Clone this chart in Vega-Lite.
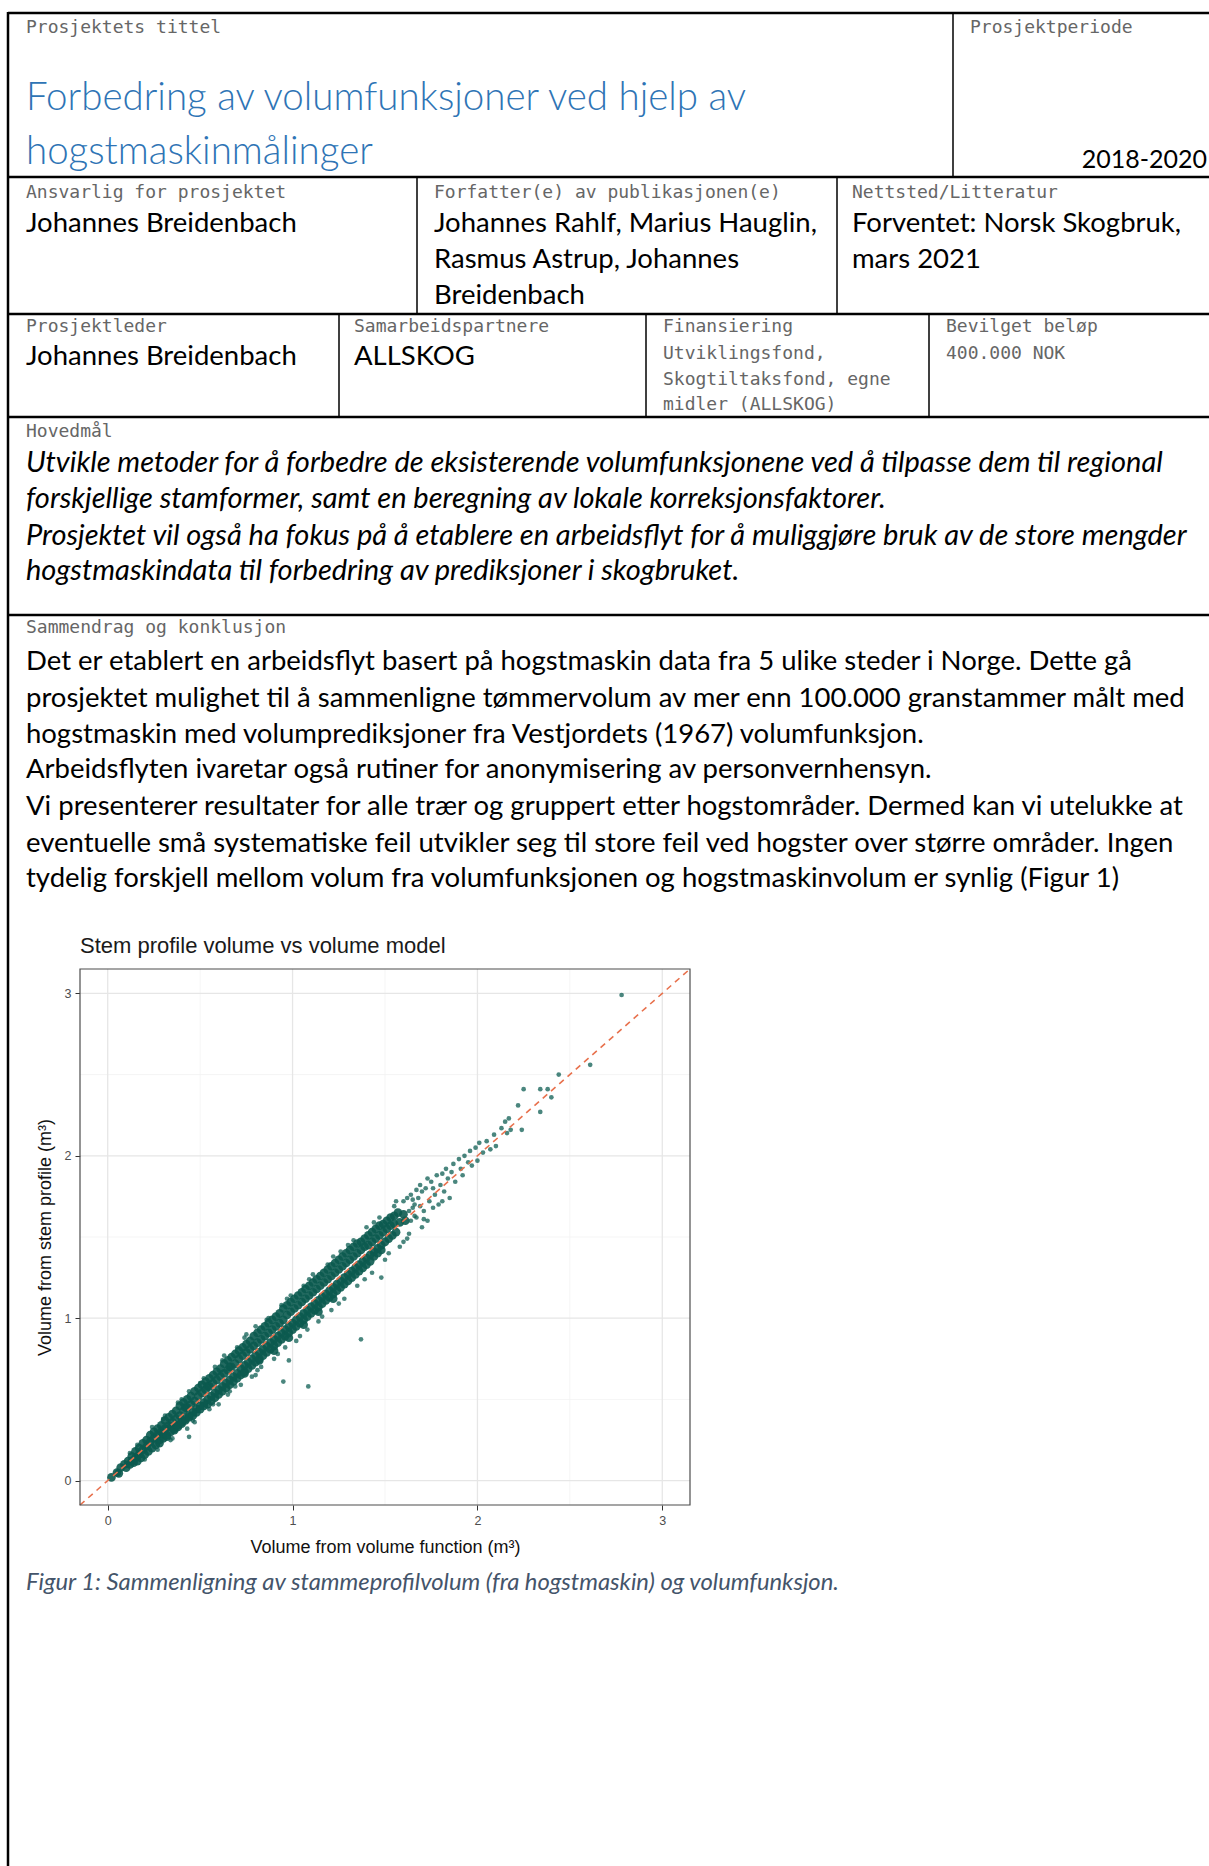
{
  "$schema": "https://vega.github.io/schema/vega-lite/v6.json",
  "width": 1209,
  "height": 1866,
  "autosize": {"type": "none"},
  "padding": 0,
  "background": "white",
  "config": {"view": {"stroke": null}},
  "datasets": {
    "texts": [
      {"role": "label", "t": "Prosjektets tittel", "px": 26, "py": 33},
      {"role": "label", "t": "Prosjektperiode", "px": 970, "py": 33},
      {"role": "label", "t": "Ansvarlig for prosjektet", "px": 26, "py": 198},
      {"role": "label", "t": "Forfatter(e) av publikasjonen(e)", "px": 434, "py": 198},
      {"role": "label", "t": "Nettsted/Litteratur", "px": 852, "py": 198},
      {"role": "label", "t": "Prosjektleder", "px": 26, "py": 332},
      {"role": "label", "t": "Samarbeidspartnere", "px": 354, "py": 332},
      {"role": "label", "t": "Finansiering", "px": 663, "py": 332},
      {"role": "label", "t": "Bevilget beløp", "px": 946, "py": 332},
      {"role": "label", "t": "Utviklingsfond,", "px": 663, "py": 359},
      {"role": "label", "t": "Skogtiltaksfond, egne", "px": 663, "py": 385},
      {"role": "label", "t": "midler (ALLSKOG)", "px": 663, "py": 410},
      {"role": "label", "t": "400.000 NOK", "px": 946, "py": 359},
      {"role": "label", "t": "Hovedmål", "px": 26, "py": 437},
      {"role": "label", "t": "Sammendrag og konklusjon", "px": 26, "py": 633},
      {"role": "title", "t": "Forbedring av volumfunksjoner  ved hjelp av", "px": 26, "py": 110},
      {"role": "title", "t": "hogstmaskinmålinger", "px": 26, "py": 164},
      {"role": "period", "t": "2018-2020", "px": 1207, "py": 168},
      {"role": "value", "t": "Johannes Breidenbach", "px": 26, "py": 232},
      {"role": "value", "t": "Johannes Rahlf, Marius Hauglin,", "px": 434, "py": 232},
      {"role": "value", "t": "Rasmus Astrup, Johannes", "px": 434, "py": 268},
      {"role": "value", "t": "Breidenbach", "px": 434, "py": 304},
      {"role": "value", "t": "Forventet: Norsk Skogbruk,", "px": 852, "py": 232},
      {"role": "value", "t": "mars 2021", "px": 852, "py": 268},
      {"role": "value", "t": "Johannes Breidenbach", "px": 26, "py": 365},
      {"role": "value", "t": "ALLSKOG", "px": 354, "py": 365},
      {"role": "goal", "t": "Utvikle metoder for å forbedre de eksisterende volumfunksjonene ved å tilpasse dem til regional", "px": 26, "py": 472},
      {"role": "goal", "t": "forskjellige stamformer, samt en beregning av lokale korreksjonsfaktorer.", "px": 26, "py": 508},
      {"role": "goal", "t": "Prosjektet vil også ha fokus på å etablere en arbeidsflyt for å muliggjøre bruk av de store mengder", "px": 26, "py": 545},
      {"role": "goal", "t": "hogstmaskindata til forbedring av prediksjoner i skogbruket.", "px": 26, "py": 580},
      {"role": "body", "t": "Det er etablert en arbeidsflyt basert på hogstmaskin data fra 5 ulike steder i Norge. Dette gå", "px": 26, "py": 670},
      {"role": "body", "t": "prosjektet mulighet til å sammenligne tømmervolum av mer enn 100.000  granstammer målt med", "px": 26, "py": 707},
      {"role": "body", "t": "hogstmaskin med volumprediksjoner fra Vestjordets (1967) volumfunksjon.", "px": 26, "py": 743},
      {"role": "body", "t": "Arbeidsflyten ivaretar også rutiner for anonymisering av personvernhensyn.", "px": 26, "py": 778},
      {"role": "body", "t": "Vi presenterer resultater for alle trær og gruppert etter hogstområder. Dermed kan vi utelukke at", "px": 26, "py": 815},
      {"role": "body", "t": "eventuelle små systematiske feil utvikler seg til store feil ved hogster over større områder. Ingen", "px": 26, "py": 852},
      {"role": "body", "t": "tydelig forskjell mellom volum fra volumfunksjonen og hogstmaskinvolum er synlig (Figur 1)", "px": 26, "py": 887},
      {"role": "caption", "t": "Figur 1: Sammenligning av stammeprofilvolum (fra hogstmaskin) og volumfunksjon.", "px": 26, "py": 1590},
      {"role": "charttitle", "t": "Stem profile volume vs volume model", "px": 80, "py": 953}
    ],
    "lines": [
      {"kind": "outer", "px": 8, "py": 13, "px2": 1209, "py2": 13},
      {"kind": "outer", "px": 8, "py": 177, "px2": 1209, "py2": 177},
      {"kind": "outer", "px": 8, "py": 314, "px2": 1209, "py2": 314},
      {"kind": "outer", "px": 8, "py": 417, "px2": 1209, "py2": 417},
      {"kind": "outer", "px": 8, "py": 615, "px2": 1209, "py2": 615},
      {"kind": "outer", "px": 8, "py": 12, "px2": 8, "py2": 1866},
      {"kind": "inner", "px": 953, "py": 13, "px2": 953, "py2": 177},
      {"kind": "inner", "px": 417, "py": 177, "px2": 417, "py2": 314},
      {"kind": "inner", "px": 837, "py": 177, "px2": 837, "py2": 314},
      {"kind": "inner", "px": 339, "py": 314, "px2": 339, "py2": 417},
      {"kind": "inner", "px": 646, "py": 314, "px2": 646, "py2": 417},
      {"kind": "inner", "px": 929, "py": 314, "px2": 929, "py2": 417}
    ],
    "grid": [
      {"v": 0, "kind": "major", "lo": -0.15, "hi": 3.15}, {"v": 1, "kind": "major", "lo": -0.15, "hi": 3.15},
      {"v": 2, "kind": "major", "lo": -0.15, "hi": 3.15}, {"v": 3, "kind": "major", "lo": -0.15, "hi": 3.15},
      {"v": 0.5, "kind": "minor", "lo": -0.15, "hi": 3.15}, {"v": 1.5, "kind": "minor", "lo": -0.15, "hi": 3.15},
      {"v": 2.5, "kind": "minor", "lo": -0.15, "hi": 3.15}
    ],
    "core": [
      {"x": 0.02, "y": 0.02}, {"x": 0.05, "y": 0.05}, {"x": 0.06, "y": 0.045}, {"x": 0.07, "y": 0.08},
      {"x": 0.09, "y": 0.10}, {"x": 0.10, "y": 0.08}, {"x": 0.11, "y": 0.12}, {"x": 0.12, "y": 0.10},
      {"x": 0.13, "y": 0.15}, {"x": 0.13, "y": 0.12}, {"x": 0.14, "y": 0.11},
      {"x": 0.15, "y": 0.18}, {"x": 0.15, "y": 0.14}, {"x": 0.16, "y": 0.12},
      {"x": 0.17, "y": 0.20}, {"x": 0.17, "y": 0.16}, {"x": 0.18, "y": 0.14},
      {"x": 0.19, "y": 0.23}, {"x": 0.19, "y": 0.19}, {"x": 0.20, "y": 0.16},
      {"x": 0.21, "y": 0.25}, {"x": 0.21, "y": 0.21}, {"x": 0.22, "y": 0.18},
      {"x": 0.23, "y": 0.28}, {"x": 0.23, "y": 0.24}, {"x": 0.24, "y": 0.20},
      {"x": 0.25, "y": 0.30}, {"x": 0.25, "y": 0.26}, {"x": 0.26, "y": 0.22},
      {"x": 0.27, "y": 0.32}, {"x": 0.27, "y": 0.28}, {"x": 0.28, "y": 0.23},
      {"x": 0.29, "y": 0.34}, {"x": 0.29, "y": 0.30}, {"x": 0.30, "y": 0.26}, {"x": 0.28, "y": 0.25},
      {"x": 0.31, "y": 0.37}, {"x": 0.31, "y": 0.32}, {"x": 0.32, "y": 0.27}, {"x": 0.30, "y": 0.29},
      {"x": 0.33, "y": 0.39}, {"x": 0.33, "y": 0.34}, {"x": 0.34, "y": 0.30}, {"x": 0.32, "y": 0.28},
      {"x": 0.35, "y": 0.41}, {"x": 0.35, "y": 0.36}, {"x": 0.36, "y": 0.32}, {"x": 0.34, "y": 0.33},
      {"x": 0.37, "y": 0.43}, {"x": 0.37, "y": 0.38}, {"x": 0.38, "y": 0.34}, {"x": 0.36, "y": 0.31},
      {"x": 0.39, "y": 0.46}, {"x": 0.39, "y": 0.40}, {"x": 0.40, "y": 0.36}, {"x": 0.38, "y": 0.33},
      {"x": 0.41, "y": 0.48}, {"x": 0.41, "y": 0.43}, {"x": 0.42, "y": 0.38}, {"x": 0.40, "y": 0.35}, {"x": 0.42, "y": 0.45},
      {"x": 0.43, "y": 0.50}, {"x": 0.43, "y": 0.45}, {"x": 0.44, "y": 0.40}, {"x": 0.42, "y": 0.37},
      {"x": 0.45, "y": 0.52}, {"x": 0.45, "y": 0.47}, {"x": 0.46, "y": 0.42}, {"x": 0.44, "y": 0.39},
      {"x": 0.47, "y": 0.55}, {"x": 0.47, "y": 0.49}, {"x": 0.48, "y": 0.44}, {"x": 0.46, "y": 0.40},
      {"x": 0.49, "y": 0.57}, {"x": 0.49, "y": 0.52}, {"x": 0.50, "y": 0.46}, {"x": 0.48, "y": 0.42},
      {"x": 0.51, "y": 0.59}, {"x": 0.51, "y": 0.54}, {"x": 0.52, "y": 0.48}, {"x": 0.50, "y": 0.44},
      {"x": 0.53, "y": 0.61}, {"x": 0.53, "y": 0.56}, {"x": 0.54, "y": 0.50}, {"x": 0.52, "y": 0.46}, {"x": 0.54, "y": 0.58},
      {"x": 0.55, "y": 0.63}, {"x": 0.55, "y": 0.58}, {"x": 0.56, "y": 0.52}, {"x": 0.54, "y": 0.47},
      {"x": 0.57, "y": 0.65}, {"x": 0.57, "y": 0.60}, {"x": 0.58, "y": 0.54}, {"x": 0.56, "y": 0.49},
      {"x": 0.59, "y": 0.67}, {"x": 0.59, "y": 0.62}, {"x": 0.60, "y": 0.56}, {"x": 0.58, "y": 0.51},
      {"x": 0.61, "y": 0.69}, {"x": 0.61, "y": 0.64}, {"x": 0.62, "y": 0.58}, {"x": 0.60, "y": 0.53},
      {"x": 0.63, "y": 0.72}, {"x": 0.63, "y": 0.66}, {"x": 0.64, "y": 0.60}, {"x": 0.62, "y": 0.55},
      {"x": 0.65, "y": 0.74}, {"x": 0.65, "y": 0.68}, {"x": 0.66, "y": 0.62}, {"x": 0.64, "y": 0.57}, {"x": 0.66, "y": 0.70},
      {"x": 0.67, "y": 0.76}, {"x": 0.67, "y": 0.70}, {"x": 0.68, "y": 0.64}, {"x": 0.66, "y": 0.59},
      {"x": 0.69, "y": 0.78}, {"x": 0.69, "y": 0.72}, {"x": 0.70, "y": 0.66}, {"x": 0.68, "y": 0.61},
      {"x": 0.71, "y": 0.80}, {"x": 0.71, "y": 0.75}, {"x": 0.72, "y": 0.69}, {"x": 0.70, "y": 0.63},
      {"x": 0.73, "y": 0.82}, {"x": 0.73, "y": 0.77}, {"x": 0.74, "y": 0.71}, {"x": 0.72, "y": 0.65}, {"x": 0.74, "y": 0.67},
      {"x": 0.75, "y": 0.84}, {"x": 0.75, "y": 0.79}, {"x": 0.76, "y": 0.73}, {"x": 0.74, "y": 0.66},
      {"x": 0.77, "y": 0.86}, {"x": 0.77, "y": 0.81}, {"x": 0.78, "y": 0.75}, {"x": 0.76, "y": 0.69},
      {"x": 0.79, "y": 0.89}, {"x": 0.79, "y": 0.83}, {"x": 0.80, "y": 0.77}, {"x": 0.78, "y": 0.71},
      {"x": 0.81, "y": 0.91}, {"x": 0.81, "y": 0.85}, {"x": 0.82, "y": 0.79}, {"x": 0.80, "y": 0.73}, {"x": 0.82, "y": 0.74},
      {"x": 0.83, "y": 0.93}, {"x": 0.83, "y": 0.87}, {"x": 0.84, "y": 0.81}, {"x": 0.82, "y": 0.75},
      {"x": 0.85, "y": 0.95}, {"x": 0.85, "y": 0.89}, {"x": 0.86, "y": 0.83}, {"x": 0.84, "y": 0.77},
      {"x": 0.87, "y": 0.97}, {"x": 0.87, "y": 0.91}, {"x": 0.88, "y": 0.85}, {"x": 0.86, "y": 0.79},
      {"x": 0.89, "y": 0.99}, {"x": 0.89, "y": 0.93}, {"x": 0.90, "y": 0.87}, {"x": 0.88, "y": 0.81}, {"x": 0.90, "y": 0.80},
      {"x": 0.91, "y": 1.01}, {"x": 0.91, "y": 0.95}, {"x": 0.92, "y": 0.89}, {"x": 0.90, "y": 0.83},
      {"x": 0.93, "y": 1.03}, {"x": 0.93, "y": 0.97}, {"x": 0.94, "y": 0.91}, {"x": 0.92, "y": 0.85},
      {"x": 0.95, "y": 1.06}, {"x": 0.95, "y": 0.99}, {"x": 0.96, "y": 0.93}, {"x": 0.94, "y": 0.87},
      {"x": 0.97, "y": 1.08}, {"x": 0.97, "y": 1.02}, {"x": 0.98, "y": 0.95}, {"x": 0.96, "y": 0.89}, {"x": 0.98, "y": 0.88},
      {"x": 0.99, "y": 1.10}, {"x": 0.99, "y": 1.04}, {"x": 1.00, "y": 0.97}, {"x": 0.98, "y": 0.91},
      {"x": 1.01, "y": 1.12}, {"x": 1.01, "y": 1.06}, {"x": 1.02, "y": 0.99}, {"x": 1.00, "y": 0.93},
      {"x": 1.03, "y": 1.14}, {"x": 1.03, "y": 1.08}, {"x": 1.04, "y": 1.01}, {"x": 1.02, "y": 0.95},
      {"x": 1.05, "y": 1.16}, {"x": 1.05, "y": 1.10}, {"x": 1.06, "y": 1.03}, {"x": 1.04, "y": 0.97}, {"x": 1.06, "y": 0.96},
      {"x": 1.07, "y": 1.18}, {"x": 1.07, "y": 1.12}, {"x": 1.08, "y": 1.05}, {"x": 1.06, "y": 0.99},
      {"x": 1.09, "y": 1.20}, {"x": 1.09, "y": 1.14}, {"x": 1.10, "y": 1.07}, {"x": 1.08, "y": 1.01},
      {"x": 1.11, "y": 1.22}, {"x": 1.11, "y": 1.16}, {"x": 1.12, "y": 1.09}, {"x": 1.10, "y": 1.03},
      {"x": 1.13, "y": 1.24}, {"x": 1.13, "y": 1.18}, {"x": 1.14, "y": 1.11}, {"x": 1.12, "y": 1.05}, {"x": 1.14, "y": 1.04},
      {"x": 1.15, "y": 1.26}, {"x": 1.15, "y": 1.20}, {"x": 1.16, "y": 1.13}, {"x": 1.14, "y": 1.07},
      {"x": 1.17, "y": 1.28}, {"x": 1.17, "y": 1.22}, {"x": 1.18, "y": 1.15}, {"x": 1.16, "y": 1.09},
      {"x": 1.19, "y": 1.30}, {"x": 1.19, "y": 1.24}, {"x": 1.20, "y": 1.17}, {"x": 1.18, "y": 1.11},
      {"x": 1.21, "y": 1.32}, {"x": 1.21, "y": 1.26}, {"x": 1.22, "y": 1.19}, {"x": 1.20, "y": 1.13}, {"x": 1.22, "y": 1.12},
      {"x": 1.23, "y": 1.34}, {"x": 1.23, "y": 1.28}, {"x": 1.24, "y": 1.21}, {"x": 1.22, "y": 1.15},
      {"x": 1.25, "y": 1.36}, {"x": 1.25, "y": 1.30}, {"x": 1.26, "y": 1.23}, {"x": 1.24, "y": 1.17},
      {"x": 1.27, "y": 1.38}, {"x": 1.27, "y": 1.32}, {"x": 1.28, "y": 1.25}, {"x": 1.26, "y": 1.19},
      {"x": 1.29, "y": 1.40}, {"x": 1.29, "y": 1.34}, {"x": 1.30, "y": 1.27}, {"x": 1.28, "y": 1.21},
      {"x": 1.31, "y": 1.42}, {"x": 1.31, "y": 1.36}, {"x": 1.32, "y": 1.29}, {"x": 1.30, "y": 1.23},
      {"x": 1.33, "y": 1.44}, {"x": 1.33, "y": 1.38}, {"x": 1.34, "y": 1.31}, {"x": 1.32, "y": 1.25},
      {"x": 1.35, "y": 1.46}, {"x": 1.35, "y": 1.40}, {"x": 1.36, "y": 1.33}, {"x": 1.34, "y": 1.27},
      {"x": 1.37, "y": 1.47}, {"x": 1.37, "y": 1.42}, {"x": 1.38, "y": 1.35}, {"x": 1.36, "y": 1.29},
      {"x": 1.39, "y": 1.49}, {"x": 1.39, "y": 1.44}, {"x": 1.40, "y": 1.37}, {"x": 1.38, "y": 1.31},
      {"x": 1.41, "y": 1.51}, {"x": 1.41, "y": 1.45}, {"x": 1.42, "y": 1.39}, {"x": 1.40, "y": 1.33},
      {"x": 1.43, "y": 1.53}, {"x": 1.43, "y": 1.47}, {"x": 1.44, "y": 1.41}, {"x": 1.42, "y": 1.35},
      {"x": 1.45, "y": 1.55}, {"x": 1.45, "y": 1.49}, {"x": 1.46, "y": 1.43}, {"x": 1.44, "y": 1.38},
      {"x": 1.47, "y": 1.57}, {"x": 1.47, "y": 1.51}, {"x": 1.48, "y": 1.45}, {"x": 1.46, "y": 1.40},
      {"x": 1.49, "y": 1.58}, {"x": 1.49, "y": 1.53}, {"x": 1.50, "y": 1.47}, {"x": 1.48, "y": 1.42},
      {"x": 1.51, "y": 1.60}, {"x": 1.51, "y": 1.55}, {"x": 1.52, "y": 1.49},
      {"x": 1.53, "y": 1.62}, {"x": 1.53, "y": 1.57}, {"x": 1.54, "y": 1.51},
      {"x": 1.55, "y": 1.63}, {"x": 1.55, "y": 1.58}, {"x": 1.56, "y": 1.53},
      {"x": 1.57, "y": 1.65}, {"x": 1.58, "y": 1.59},
      {"x": 1.60, "y": 1.64}, {"x": 1.61, "y": 1.60}
    ],
    "sparse": [
      {"x": 0.12, "y": 0.17}, {"x": 0.16, "y": 0.22}, {"x": 0.20, "y": 0.13}, {"x": 0.24, "y": 0.33},
      {"x": 0.27, "y": 0.19}, {"x": 0.31, "y": 0.40}, {"x": 0.35, "y": 0.26}, {"x": 0.38, "y": 0.48},
      {"x": 0.43, "y": 0.32}, {"x": 0.44, "y": 0.55}, {"x": 0.47, "y": 0.36}, {"x": 0.52, "y": 0.63},
      {"x": 0.55, "y": 0.44}, {"x": 0.58, "y": 0.70}, {"x": 0.60, "y": 0.47}, {"x": 0.63, "y": 0.77},
      {"x": 0.66, "y": 0.55}, {"x": 0.70, "y": 0.82}, {"x": 0.72, "y": 0.59}, {"x": 0.75, "y": 0.90},
      {"x": 0.78, "y": 0.64}, {"x": 0.80, "y": 0.95}, {"x": 0.83, "y": 0.70}, {"x": 0.87, "y": 1.00},
      {"x": 0.90, "y": 0.75}, {"x": 0.94, "y": 1.08}, {"x": 0.96, "y": 0.82}, {"x": 0.99, "y": 1.14},
      {"x": 1.02, "y": 0.86}, {"x": 1.06, "y": 1.20}, {"x": 1.08, "y": 0.93}, {"x": 1.11, "y": 1.27},
      {"x": 1.14, "y": 0.98}, {"x": 1.19, "y": 1.33}, {"x": 1.21, "y": 1.05}, {"x": 1.26, "y": 1.41},
      {"x": 1.28, "y": 1.12}, {"x": 1.33, "y": 1.48}, {"x": 1.35, "y": 1.20}, {"x": 1.40, "y": 1.56},
      {"x": 1.43, "y": 1.28}, {"x": 1.47, "y": 1.62}, {"x": 1.50, "y": 1.36}, {"x": 1.55, "y": 1.69},
      {"x": 1.58, "y": 1.44}, {"x": 1.60, "y": 1.72}, {"x": 1.63, "y": 1.52},
      {"x": 0.30, "y": 0.38}, {"x": 0.34, "y": 0.25}, {"x": 0.40, "y": 0.50}, {"x": 0.46, "y": 0.37},
      {"x": 0.50, "y": 0.60}, {"x": 0.57, "y": 0.47}, {"x": 0.62, "y": 0.74}, {"x": 0.69, "y": 0.58},
      {"x": 0.74, "y": 0.88}, {"x": 0.81, "y": 0.68}, {"x": 0.86, "y": 0.99}, {"x": 0.92, "y": 0.78},
      {"x": 0.97, "y": 1.12}, {"x": 1.04, "y": 0.89}, {"x": 1.09, "y": 1.24}, {"x": 1.16, "y": 1.01},
      {"x": 1.22, "y": 1.38}, {"x": 1.25, "y": 1.09}, {"x": 1.30, "y": 1.45}, {"x": 1.39, "y": 1.24},
      {"x": 1.44, "y": 1.59}, {"x": 1.52, "y": 1.40}, {"x": 1.56, "y": 1.72}, {"x": 1.62, "y": 1.49},
      {"x": 1.65, "y": 1.73}, {"x": 1.69, "y": 1.69}, {"x": 1.71, "y": 1.61}, {"x": 1.76, "y": 1.80},
      {"x": 1.62, "y": 1.74}, {"x": 1.67, "y": 1.79}, {"x": 1.69, "y": 1.82}, {"x": 1.73, "y": 1.86},
      {"x": 1.76, "y": 1.68}, {"x": 1.81, "y": 1.89}, {"x": 1.81, "y": 1.72},
      {"x": 1.63, "y": 1.66}, {"x": 1.64, "y": 1.60}, {"x": 1.65, "y": 1.68}, {"x": 1.66, "y": 1.63},
      {"x": 1.64, "y": 1.76}, {"x": 1.66, "y": 1.70}, {"x": 1.68, "y": 1.74}, {"x": 1.70, "y": 1.78},
      {"x": 1.67, "y": 1.62}, {"x": 1.71, "y": 1.66}, {"x": 1.72, "y": 1.80}, {"x": 1.74, "y": 1.72},
      {"x": 1.73, "y": 1.60}, {"x": 1.75, "y": 1.84}, {"x": 1.77, "y": 1.76}, {"x": 1.78, "y": 1.88},
      {"x": 1.79, "y": 1.70}, {"x": 1.80, "y": 1.82}, {"x": 1.82, "y": 1.78}, {"x": 1.83, "y": 1.92},
      {"x": 1.84, "y": 1.86}, {"x": 1.85, "y": 1.74}, {"x": 1.86, "y": 1.90}, {"x": 1.87, "y": 1.95},
      {"x": 1.88, "y": 1.84}, {"x": 1.90, "y": 1.98}, {"x": 1.91, "y": 1.92}, {"x": 1.92, "y": 1.88},
      {"x": 1.93, "y": 2.00}, {"x": 1.95, "y": 1.96}, {"x": 1.96, "y": 2.03}, {"x": 1.97, "y": 1.94},
      {"x": 1.99, "y": 2.05}, {"x": 2.00, "y": 1.97}, {"x": 2.01, "y": 2.08}, {"x": 2.03, "y": 2.02},
      {"x": 2.05, "y": 2.09}, {"x": 2.07, "y": 2.04}, {"x": 2.09, "y": 2.13}, {"x": 2.10, "y": 2.06},
      {"x": 2.13, "y": 2.17}, {"x": 2.15, "y": 2.21}, {"x": 2.16, "y": 2.14}, {"x": 2.18, "y": 2.16},
      {"x": 2.17, "y": 2.23}, {"x": 2.22, "y": 2.31}, {"x": 2.25, "y": 2.41}, {"x": 2.24, "y": 2.16},
      {"x": 2.34, "y": 2.27}, {"x": 2.34, "y": 2.41}, {"x": 2.38, "y": 2.41}, {"x": 2.40, "y": 2.36},
      {"x": 2.44, "y": 2.50}, {"x": 2.61, "y": 2.56}, {"x": 2.78, "y": 2.99},
      {"x": 1.37, "y": 0.87}, {"x": 1.085, "y": 0.58}, {"x": 0.95, "y": 0.61}, {"x": 0.98, "y": 0.74},
      {"x": 0.80, "y": 0.65}, {"x": 0.44, "y": 0.27}, {"x": 0.65, "y": 0.53}, {"x": 1.70, "y": 1.56},
      {"x": 1.48, "y": 1.25}, {"x": 1.60, "y": 1.47}
    ],
    "diag": [{"x": -0.15, "y": -0.15}, {"x": 3.15, "y": 3.15}],
    "panel": [{"x": -0.15, "x2": 3.15, "y": -0.15, "y2": 3.15}]
  },
  "layer": [
    {
      "encoding": {
        "x": {"field": "px", "type": "quantitative", "scale": {"domain": [0, 1209], "range": [0, 1209], "nice": false, "zero": false}, "axis": null},
        "y": {"field": "py", "type": "quantitative", "scale": {"domain": [0, 1866], "range": [0, 1866], "nice": false, "zero": false}, "axis": null}
      },
      "layer": [
        {
          "data": {"name": "lines"},
          "transform": [{"filter": "datum.kind === 'outer'"}],
          "mark": {"type": "rule", "color": "#000000", "strokeWidth": 2.5},
          "encoding": {"x2": {"field": "px2"}, "y2": {"field": "py2"}}
        },
        {
          "data": {"name": "lines"},
          "transform": [{"filter": "datum.kind === 'inner'"}],
          "mark": {"type": "rule", "color": "#000000", "strokeWidth": 1.5},
          "encoding": {"x2": {"field": "px2"}, "y2": {"field": "py2"}}
        },
        {
          "data": {"name": "texts"},
          "transform": [{"filter": "datum.role === 'label'"}],
          "mark": {"type": "text", "font": "DejaVu Sans Mono", "fontSize": 18, "fill": "#666666", "align": "left", "baseline": "alphabetic"},
          "encoding": {"text": {"field": "t"}}
        },
        {
          "data": {"name": "texts"},
          "transform": [{"filter": "datum.role === 'title'"}],
          "mark": {"type": "text", "font": "Lato", "fontWeight": 300, "fontSize": 38.5, "fill": "#2e74b5", "align": "left", "baseline": "alphabetic"},
          "encoding": {"text": {"field": "t"}}
        },
        {
          "data": {"name": "texts"},
          "transform": [{"filter": "datum.role === 'period'"}],
          "mark": {"type": "text", "font": "Lato", "fontSize": 25, "fill": "#000000", "align": "right", "baseline": "alphabetic"},
          "encoding": {"text": {"field": "t"}}
        },
        {
          "data": {"name": "texts"},
          "transform": [{"filter": "datum.role === 'value'"}],
          "mark": {"type": "text", "font": "Lato", "fontSize": 27.5, "fill": "#000000", "align": "left", "baseline": "alphabetic"},
          "encoding": {"text": {"field": "t"}}
        },
        {
          "data": {"name": "texts"},
          "transform": [{"filter": "datum.role === 'goal'"}],
          "mark": {"type": "text", "font": "Lato", "fontStyle": "italic", "fontSize": 29, "fill": "#000000", "align": "left", "baseline": "alphabetic"},
          "encoding": {"text": {"field": "t"}}
        },
        {
          "data": {"name": "texts"},
          "transform": [{"filter": "datum.role === 'body'"}],
          "mark": {"type": "text", "font": "Lato", "fontSize": 27.5, "fill": "#000000", "align": "left", "baseline": "alphabetic"},
          "encoding": {"text": {"field": "t"}}
        },
        {
          "data": {"name": "texts"},
          "transform": [{"filter": "datum.role === 'caption'"}],
          "mark": {"type": "text", "font": "Lato", "fontStyle": "italic", "fontSize": 23.8, "fill": "#44546a", "align": "left", "baseline": "alphabetic"},
          "encoding": {"text": {"field": "t"}}
        },
        {
          "data": {"name": "texts"},
          "transform": [{"filter": "datum.role === 'charttitle'"}],
          "mark": {"type": "text", "font": "Liberation Sans", "fontSize": 22, "fill": "#1a1a1a", "align": "left", "baseline": "alphabetic"},
          "encoding": {"text": {"field": "t"}}
        }
      ]
    },
    {
      "encoding": {
        "x": {
          "field": "x", "type": "quantitative",
          "scale": {"domain": [-0.15, 3.15], "range": [80, 690], "nice": false, "zero": false},
          "axis": {"orient": "bottom", "offset": -361, "values": [0, 1, 2, 3], "format": "d", "grid": false, "domain": false,
                   "tickColor": "#333333", "tickSize": 5, "labelFont": "Liberation Sans", "labelFontSize": 12.5, "labelColor": "#4d4d4d", "labelPadding": 4,
                   "title": "Volume from volume function (m³)", "titleFont": "Liberation Sans", "titleFontSize": 18, "titleFontWeight": "normal", "titleColor": "#111111", "titlePadding": 12}
        },
        "y": {
          "field": "y", "type": "quantitative",
          "scale": {"domain": [-0.15, 3.15], "range": [1505, 969], "nice": false, "zero": false},
          "axis": {"orient": "left", "offset": -80, "values": [0, 1, 2, 3], "format": "d", "grid": false, "domain": false,
                   "tickColor": "#333333", "tickSize": 5, "labelFont": "Liberation Sans", "labelFontSize": 12.5, "labelColor": "#4d4d4d", "labelPadding": 4,
                   "title": "Volume from stem profile (m³)", "titleFont": "Liberation Sans", "titleFontSize": 18, "titleFontWeight": "normal", "titleColor": "#111111", "titlePadding": 10}
        }
      },
      "layer": [
        {
          "data": {"name": "grid"},
          "transform": [{"filter": "datum.kind === 'minor'"}],
          "mark": {"type": "rule", "color": "#f2f2f2", "strokeWidth": 0.8},
          "encoding": {"x": {"field": "v", "type": "quantitative"}, "y": {"field": "lo", "type": "quantitative"}, "y2": {"field": "hi"}}
        },
        {
          "data": {"name": "grid"},
          "transform": [{"filter": "datum.kind === 'minor'"}],
          "mark": {"type": "rule", "color": "#f2f2f2", "strokeWidth": 0.8},
          "encoding": {"y": {"field": "v", "type": "quantitative"}, "x": {"field": "lo", "type": "quantitative"}, "x2": {"field": "hi"}}
        },
        {
          "data": {"name": "grid"},
          "transform": [{"filter": "datum.kind === 'major'"}],
          "mark": {"type": "rule", "color": "#e6e6e6", "strokeWidth": 1.3},
          "encoding": {"x": {"field": "v", "type": "quantitative"}, "y": {"field": "lo", "type": "quantitative"}, "y2": {"field": "hi"}}
        },
        {
          "data": {"name": "grid"},
          "transform": [{"filter": "datum.kind === 'major'"}],
          "mark": {"type": "rule", "color": "#e6e6e6", "strokeWidth": 1.3},
          "encoding": {"y": {"field": "v", "type": "quantitative"}, "x": {"field": "lo", "type": "quantitative"}, "x2": {"field": "hi"}}
        },
        {
          "data": {"name": "sparse"},
          "mark": {"type": "circle", "color": "#0d5e53", "opacity": 0.75, "size": 22}
        },
        {
          "data": {"name": "core"},
          "mark": {"type": "circle", "color": "#0b5a4f", "opacity": 0.9, "size": 75}
        },
        {
          "data": {"name": "diag"},
          "mark": {"type": "line", "color": "#e8714d", "strokeWidth": 1.6, "strokeDash": [6, 5], "clip": true},
          "encoding": {}
        },
        {
          "data": {"name": "panel"},
          "mark": {"type": "rect", "fill": "transparent", "stroke": "#4d4d4d", "strokeWidth": 1.2},
          "encoding": {"x2": {"field": "x2"}, "y2": {"field": "y2"}}
        }
      ]
    }
  ],
  "resolve": {"scale": {"x": "independent", "y": "independent"}, "axis": {"x": "independent", "y": "independent"}}
}
